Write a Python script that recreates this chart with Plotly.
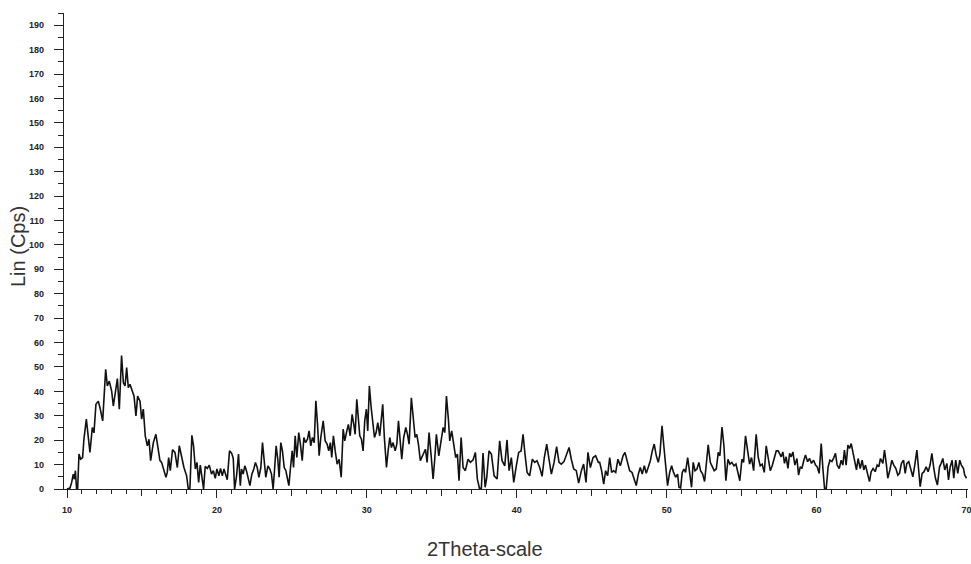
import plotly.graph_objects as go

# --- data (2-theta in degrees, intensity in Cps) ---
two_theta_a = [10.0, 10.2, 10.31, 10.42, 10.49, 10.56, 10.64, 10.71, 10.8, 10.91, 11.04, 11.13, 11.29, 11.4, 11.53,
               11.69, 11.8, 11.93, 12.09, 12.2, 12.38, 12.58, 12.69, 12.82, 12.98, 13.09, 13.2, 13.36, 13.49, 13.64,
               13.76, 13.87, 13.98, 14.09, 14.2, 14.31, 14.47, 14.6, 14.71, 14.87, 14.98, 15.09, 15.22, 15.36, 15.47,
               15.58, 15.76, 15.93, 16.09, 16.2, 16.31, 16.42, 16.6, 16.69, 16.78, 16.89, 17.04, 17.2, 17.36, 17.49,
               17.64, 17.8, 17.98, 18.09, 18.2, 18.33, 18.44, 18.56, 18.67, 18.78, 18.89, 19.0, 19.11, 19.22, 19.36,
               19.49, 19.64, 19.76, 19.89, 20.0, 20.13, 20.24, 20.36, 20.47, 20.58, 20.69, 20.84, 20.98, 21.09, 21.18,
               21.31, 21.44, 21.56]
counts_a = [0, 0.4, 2.7, 6.1, 4, 7.5, 0, 0, 14.3, 12.2, 12.9, 20.4, 28.6, 23, 15,
            25.2, 23, 34.7, 36, 33.3, 27.9, 49, 42.2, 44.2, 40.1, 34, 39.5, 45.2, 32.7, 54.7,
            43.5, 42.2, 49.7, 41.5, 42.9, 40.8, 38.1, 29.9, 38.1, 36, 28.6, 32.7, 21.8, 17.7, 20.4,
            11.6, 19, 22.4, 16.3, 11.6, 10.9, 8.2, 4.8, 6.8, 12.9, 7.5, 16.1, 15, 8.8, 17.7,
            12.9, 8.8, 5.4, 0, 0.3, 22, 17.7, 8.2, 10.9, 2.7, 9.8, 4.8, 0, 9.3, 8.4,
            9.8, 6.1, 7.5, 4.4, 8.2, 5.4, 8.4, 5.4, 8.2, 6.1, 3.8, 15.6, 14.7, 12.5, 0,
            5.4, 14.3, 1.4]

two_theta_b = [21.64, 21.75, 21.86, 21.97, 22.09, 22.2, 22.33, 22.46, 22.57, 22.69, 22.8, 22.93, 23.04, 23.15, 23.26,
               23.4, 23.53, 23.64, 23.75, 23.84, 23.95, 24.06, 24.15, 24.26, 24.37, 24.49, 24.6, 24.71, 24.8, 24.91,
               25.02, 25.11, 25.22, 25.33, 25.46, 25.57, 25.69, 25.8, 25.91, 26.04, 26.15, 26.26, 26.37, 26.49, 26.6,
               26.71, 26.82, 26.93, 27.09, 27.22, 27.35, 27.46, 27.57, 27.66, 27.77, 27.89, 28.02, 28.15, 28.29, 28.42,
               28.53, 28.64, 28.77, 28.89, 29.02, 29.13, 29.22, 29.33, 29.44, 29.53, 29.64, 29.75, 29.86, 29.97, 30.06,
               30.17, 30.29, 30.4, 30.51, 30.62, 30.73, 30.86, 30.97, 31.06, 31.17, 31.31, 31.42, 31.53, 31.64, 31.75,
               31.89, 32.0, 32.11, 32.22, 32.33, 32.46, 32.6, 32.71, 32.82, 32.97, 33.09, 33.22, 33.33, 33.44, 33.57,
               33.71]
counts_b = [8.2, 6.1, 9.5, 7.5, 4.8, 1.4, 6.1, 8.2, 10.9, 8.8, 4.8, 8.8, 19, 11.6, 4.8,
            9.5, 8.2, 6.1, 0, 7.5, 17.7, 12.2, 4.8, 19, 15.6, 8.8, 7.5, 4.1, 1.4, 8.8,
            15.6, 8.8, 21.8, 12.9, 23.1, 18.4, 11.6, 21.1, 19, 20.4, 23.8, 17.7, 21.1, 19, 36.1,
            26.5, 13.6, 21.1, 27.9, 19.7, 18.4, 15.6, 19, 12.9, 21.8, 15.6, 10.2, 12.2, 4.8, 24.5,
            19.7, 23.1, 26.5, 21.8, 30.6, 26.5, 22.4, 36.7, 27.9, 21.8, 20.4, 15.6, 27.9, 32.7, 23.8,
            42.2, 33.3, 26.5, 21.1, 23.1, 27.2, 21.8, 27.9, 34.7, 21.1, 8.8, 15.6, 21.1, 17, 19,
            15.6, 18.4, 27.9, 18.4, 12.2, 21.1, 25.2, 22.4, 18.4, 37.4, 30.6, 21.1, 22.4, 18.4, 11.6,
            13.6]

two_theta_c = [33.91, 34.02, 34.15, 34.29, 34.42, 34.53, 34.64, 34.8, 34.97, 35.09, 35.2, 35.31, 35.44, 35.53, 35.66,
               35.82, 35.93, 36.04, 36.15, 36.29, 36.42, 36.57, 36.75, 36.91, 37.09, 37.24, 37.37, 37.51, 37.64, 37.75,
               37.89, 38.0, 38.15, 38.31, 38.49, 38.69, 38.86, 39.02, 39.2, 39.35, 39.49, 39.64, 39.8, 39.97, 40.13,
               40.29, 40.42, 40.55, 40.69, 40.86, 41.04, 41.2, 41.35, 41.53, 41.69, 41.84, 42.0, 42.15, 42.31, 42.49,
               42.66, 42.82, 42.97, 43.15, 43.33, 43.49, 43.64, 43.8, 43.97, 44.13, 44.31, 44.46, 44.62, 44.75, 44.91,
               45.09, 45.26, 45.44]
counts_c = [16.3, 10.9, 23.1, 13.6, 4.1, 12.2, 22.4, 13.6, 21.8, 25.2, 23.1, 38.1, 28.6, 19.7, 23.8,
            16.3, 12.9, 14.3, 3.4, 21.1, 8.8, 7.5, 12.2, 10.9, 12, 15, 4.1, 0.3, 0.3, 14.7,
            0.7, 4.8, 15.6, 14.3, 5.4, 4.1, 19.7, 11.6, 9.5, 20.1, 7.5, 12.9, 2.7, 9.5, 15,
            15.6, 22.4, 14.3, 6.8, 5.4, 12.2, 10.9, 11.6, 8.8, 5.2, 12.9, 18.4, 12.2, 6.1, 10.9,
            17.4, 10.9, 10.2, 11.2, 14.3, 17, 12.2, 8.2, 7.5, 2.4, 7.5, 10.2, 2.7, 15, 8.8,
            12.9, 13.6, 10.9]

two_theta_d = [45.53, 45.66, 45.8, 45.93, 46.06, 46.2, 46.33, 46.46, 46.6, 46.75, 46.91, 47.09, 47.22, 47.35, 47.53,
               47.69, 47.84, 47.97, 48.11, 48.24, 48.37, 48.51, 48.64, 48.77, 48.91, 49.04, 49.17, 49.31, 49.44, 49.55,
               49.69, 49.82, 49.95, 50.06, 50.2, 50.33, 50.46, 50.6, 50.73, 50.82, 50.93, 51.04, 51.15, 51.26, 51.4,
               51.53, 51.66, 51.77, 51.89, 52.02, 52.15, 52.26, 52.4, 52.53, 52.64, 52.77, 52.91, 53.04, 53.17, 53.31,
               53.44, 53.55, 53.69, 53.82, 53.95, 54.09, 54.22, 54.35, 54.49, 54.62, 54.75, 54.88, 55.02, 55.13, 55.26,
               55.4, 55.53, 55.66, 55.8, 55.97, 56.11, 56.24, 56.37, 56.51, 56.64, 56.77, 56.91, 57.04, 57.17, 57.31,
               57.44]
counts_d = [10.9, 7.5, 2, 7.5, 5.4, 12.9, 6.8, 7.5, 6.8, 12.2, 9.5, 13.6, 15, 12.2, 7.5,
            6.8, 3.4, 1.4, 6.1, 8.8, 6.1, 9.5, 6.4, 8.8, 11.6, 15.6, 18.4, 13.6, 10.9, 14.3,
            25.9, 17, 6.8, 1.4, 6.8, 9.5, 6.8, 4.8, 6.1, 0.7, 0.4, 6.8, 8.2, 6.8, 12.9,
            6.1, 0.7, 10.9, 7.5, 8.2, 10.9, 7.5, 6.1, 3.1, 10.9, 18.1, 10.9, 8.8, 7.5, 8.2,
            15, 13.6, 25.4, 17.7, 3.4, 12.2, 10.2, 10.9, 9.5, 10.2, 6.1, 3.4, 12.2, 10.9, 21.8,
            16.3, 10.2, 12.9, 7.5, 22.4, 12.9, 9.5, 10.2, 6.8, 17.7, 12.9, 7.5, 9.5, 12.9, 15.6,
            15.6]

two_theta_e = [57.53, 57.64, 57.75, 57.86, 57.97, 58.09, 58.2, 58.31, 58.42, 58.55, 58.69, 58.8, 58.91, 59.02, 59.15,
               59.26, 59.4, 59.53, 59.66, 59.8, 59.93, 60.04, 60.17, 60.31, 60.42, 60.53, 60.64, 60.77, 60.89, 61.02,
               61.13, 61.26, 61.37, 61.51, 61.64, 61.75, 61.86, 61.97, 62.09, 62.2, 62.31, 62.42, 62.55, 62.66, 62.77,
               62.91, 63.04, 63.15, 63.26, 63.4, 63.53, 63.64, 63.77, 63.91, 64.04, 64.15, 64.26, 64.42, 64.53, 64.66,
               64.75, 64.89, 65.02, 65.15, 65.29, 65.42, 65.53, 65.66, 65.8, 65.91, 66.02, 66.15, 66.29, 66.42, 66.55,
               66.69, 66.8, 66.91, 67.04, 67.17, 67.31, 67.44, 67.57, 67.69, 67.82, 67.93, 68.06, 68.2, 68.31, 68.42,
               68.55, 68.69, 68.8, 68.91, 69.04, 69.15, 69.28, 69.42, 69.55, 69.66, 69.8, 69.88, 70.0]
counts_e = [14.6, 13.2, 15.2, 10.5, 13.2, 8.4, 14.6, 13.2, 15.2, 9.8, 12.5, 5.7, 9.1, 8.4, 11.8,
            13.9, 11.2, 12.5, 10.5, 11.8, 9.8, 9.1, 6.4, 18.6, 8.4, 0.3, 0, 9.1, 11.8, 11.2,
            12.5, 14.6, 9.8, 8.4, 11.8, 9.8, 15.9, 9.8, 18, 16.6, 18.6, 15.2, 10.5, 7.8, 12.5,
            8.4, 11.8, 7.8, 9.8, 6.4, 3, 7.1, 8.4, 7.1, 9.8, 9.1, 12.5, 10.5, 15.9, 9.8,
            4.4, 7.8, 11.8, 9.8, 8.4, 5.7, 6.4, 10.5, 11.8, 6.4, 10.5, 11.2, 7.8, 5, 9.8,
            15.9, 8.4, 1, 6.4, 7.1, 9.1, 7.1, 9.8, 14.6, 8.4, 4.4, 1.6, 9.1, 10.5, 12.5,
            7.8, 10.5, 3.7, 9.1, 11.8, 4.4, 11.8, 6.4, 11.8, 9.8, 8.4, 5.7, 4.4]

two_theta = two_theta_a + two_theta_b + two_theta_c + two_theta_d + two_theta_e
counts = counts_a + counts_b + counts_c + counts_d + counts_e

x_title = "2Theta-scale"
y_title = "Lin (Cps)"

FONT = "Liberation Sans, Arial, sans-serif"

# plot-area geometry in pixels
L, R, T, B = 64, 3, 13, 75
W, H = 971, 564
PW, PH = W - L - R, H - T - B
AXIS_Y = H - B

fig = go.Figure()
fig.add_trace(go.Scatter(
    x=two_theta, y=counts, mode="lines",
    line=dict(color="#111111", width=1.6),
    showlegend=False, hoverinfo="skip",
))
# invisible trace to activate the overlaying axis used for the 5-degree ticks
fig.add_trace(go.Scatter(x=[two_theta[0]], y=[counts[0]], xaxis="x2", mode="markers",
                         marker=dict(opacity=0), showlegend=False, hoverinfo="skip"))

tickfont = dict(family=FONT, size=9, color="#222222", weight="bold")

fig.update_layout(
    width=W, height=H,
    margin=dict(l=L, r=R, t=T, b=B, autoexpand=False),
    paper_bgcolor="white", plot_bgcolor="white",
    xaxis=dict(
        range=[9.8, 70.1], tick0=10, dtick=10, automargin=False,
        ticks="outside", ticklen=8, tickwidth=1, tickcolor="#222",
        showline=True, linecolor="#222", linewidth=1.2,
        showgrid=False, zeroline=False,
        tickfont=tickfont, ticklabelstandoff=4, ticklabeloverflow="allow",
        minor=dict(dtick=1, tick0=10, ticks="outside", ticklen=4, tickwidth=1, tickcolor="#222", showgrid=False),
    ),
    xaxis2=dict(
        overlaying="x", matches="x", anchor="y", side="bottom", automargin=False,
        tick0=5, dtick=10, ticks="outside", ticklen=6, tickwidth=1, tickcolor="#222",
        showticklabels=False, showline=False, showgrid=False, zeroline=False,
    ),
    yaxis=dict(
        range=[0, 195], tick0=0, dtick=10, automargin=False,
        ticks="outside", ticklen=9, tickwidth=1, tickcolor="#222",
        showline=True, linecolor="#222", linewidth=1.2,
        showgrid=False, zeroline=False,
        tickfont=tickfont, ticklabelstandoff=8,
        minor=dict(dtick=5, tick0=0, ticks="outside", ticklen=5, tickwidth=1, tickcolor="#222", showgrid=False),
    ),
    annotations=[
        dict(text=x_title, xref="paper", yref="paper", x=(485 - L) / PW,
             y=-(549 - AXIS_Y) / PH, showarrow=False,
             font=dict(family=FONT, size=20, color="#333333"), xanchor="center", yanchor="middle"),
        dict(text=y_title, xref="paper", yref="paper", x=(18 - L) / PW,
             y=(AXIS_Y - 247) / PH, showarrow=False, textangle=-90,
             font=dict(family=FONT, size=20, color="#333333"), xanchor="center", yanchor="middle"),
    ],
)

fig.write_html("out.html", config={"displayModeBar": False},
               post_script="document.body.style.margin='0';document.body.style.overflow='hidden';")
